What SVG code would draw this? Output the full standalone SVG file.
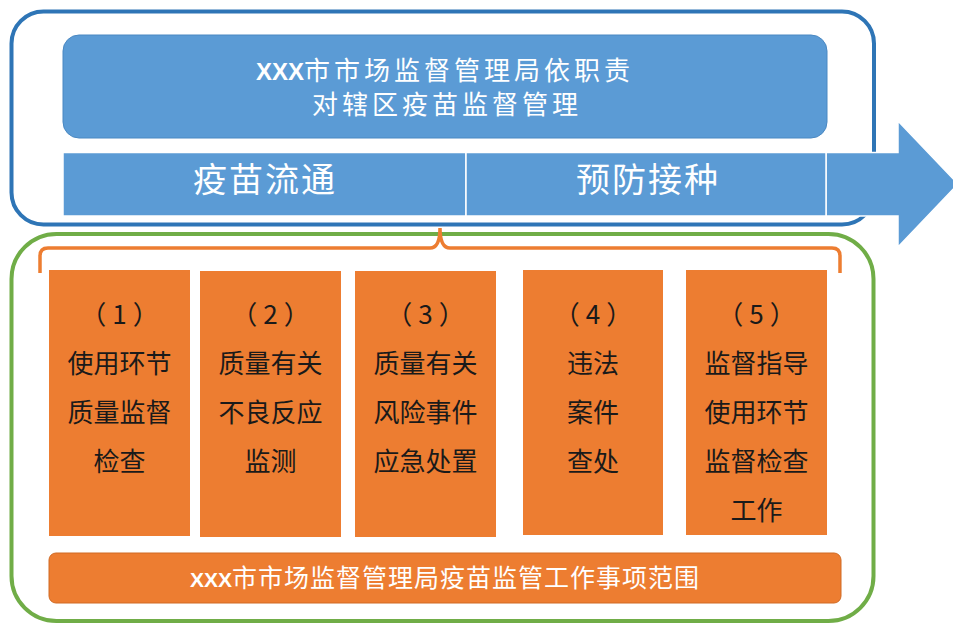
<svg xmlns="http://www.w3.org/2000/svg" width="953" height="626" viewBox="0 0 953 626">
<style>
.seg{fill:#5B9BD5;stroke:#FFFFFF;stroke-width:1.5}
.orange{fill:#ED7D31}
.wt{fill:#FFFFFF;font-family:"Noto Sans CJK SC","Noto Sans",sans-serif;text-anchor:middle}
.bt{fill:#1A1A1A;font-family:"Noto Sans CJK SC","Noto Sans",sans-serif;font-size:26px;text-anchor:middle}
.x{font-family:"Liberation Sans",Arial,sans-serif;font-weight:bold;letter-spacing:0}
.p{letter-spacing:6px}
</style>
<rect width="953" height="626" fill="#FFFFFF"/>
<g id="outer-blue">
<rect x="11.5" y="11.5" width="862.5" height="213" rx="32" ry="32" fill="none" stroke="#2E75B6" stroke-width="4"/>
</g>
<g id="outer-green">
<rect x="11.5" y="234" width="862" height="387" rx="45" ry="45" fill="none" stroke="#70AD47" stroke-width="4"/>
</g>
<g id="title">
<rect x="63" y="35" width="764" height="103" rx="16" ry="16" fill="#5B9BD5" stroke="#4A88C2" stroke-width="1"/>
<text class="wt" x="445" y="80" font-size="26" letter-spacing="4"><tspan class="x" font-size="24">XXX</tspan>市市场监督管理局依职责</text>
<text class="wt" x="447" y="114" font-size="26" letter-spacing="4">对辖区疫苗监督管理</text>
</g>
<g id="band">
<path class="seg" d="M826,152.5 L898,152.5 L898,121 L958,184 L898,247 L898,216 L826,216 Z"/>
<rect class="seg" x="63" y="152.5" width="403" height="63.5"/>
<rect class="seg" x="466" y="152.5" width="360" height="63.5"/>
<text class="wt" x="265" y="192" font-size="34" letter-spacing="2">疫苗流通</text>
<text class="wt" x="648" y="192" font-size="34" letter-spacing="2">预防接种</text>
</g>
<g id="connectors">
<path d="M40,273 L40,256 Q40,248 48,248 L430,248 Q440,248 440,228 Q440,248 450,248 L832,248 Q840,248 840,256 L840,273" fill="none" stroke="#ED7D31" stroke-width="3.5"/>
</g>
<g id="item1">
<rect class="orange" x="49" y="270" width="141" height="266"/>
<text class="bt"><tspan class="p" x="122.5" y="324">（1）</tspan><tspan x="119.5" y="373">使用环节</tspan><tspan x="119.5" y="422">质量监督</tspan><tspan x="119.5" y="471">检查</tspan></text>
</g>
<g id="item2">
<rect class="orange" x="200" y="271" width="141" height="266"/>
<text class="bt"><tspan class="p" x="273.5" y="324">（2）</tspan><tspan x="270.5" y="373">质量有关</tspan><tspan x="270.5" y="422">不良反应</tspan><tspan x="270.5" y="471">监测</tspan></text>
</g>
<g id="item3">
<rect class="orange" x="355" y="271" width="141" height="266"/>
<text class="bt"><tspan class="p" x="428.5" y="324">（3）</tspan><tspan x="425.5" y="373">质量有关</tspan><tspan x="425.5" y="422">风险事件</tspan><tspan x="425.5" y="471">应急处置</tspan></text>
</g>
<g id="item4">
<rect class="orange" x="523" y="270" width="140" height="265"/>
<text class="bt"><tspan class="p" x="596" y="324">（4）</tspan><tspan x="593" y="373">违法</tspan><tspan x="593" y="422">案件</tspan><tspan x="593" y="471">查处</tspan></text>
</g>
<g id="item5">
<rect class="orange" x="686" y="270" width="141" height="265"/>
<text class="bt"><tspan class="p" x="759.5" y="324">（5）</tspan><tspan x="756.5" y="373">监督指导</tspan><tspan x="756.5" y="422">使用环节</tspan><tspan x="756.5" y="471">监督检查</tspan><tspan x="756.5" y="520">工作</tspan></text>
</g>
<g id="scope">
<rect x="49" y="553" width="792" height="50" rx="7" ry="7" fill="#ED7D31" stroke="#D06A24" stroke-width="1"/>
<text class="wt" x="445" y="587" font-size="25" letter-spacing="1"><tspan class="x" font-size="21">XXX</tspan>市市场监督管理局疫苗监管工作事项范围</text>
</g>
</svg>
